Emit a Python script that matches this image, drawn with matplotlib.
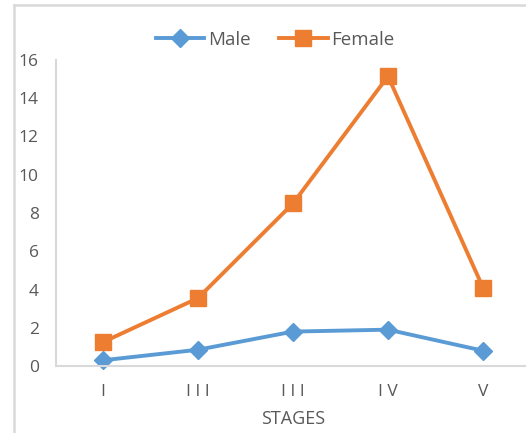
import matplotlib.pyplot as plt
from matplotlib.lines import Line2D

stages = ["I", "I I I", "I I I", "I V", "V"]
male = [0.3, 0.85, 1.8, 1.9, 0.8]
female = [1.25, 3.55, 8.5, 15.15, 4.1]

plt.rcParams["font.family"] = ["Open Sans", "DejaVu Sans"]
TXT = "#595959"
GRID = "#d9d9d9"

fig = plt.figure(figsize=(5.26, 4.33), dpi=100)
ax = fig.add_axes([55.5 / 526, 67 / 433, 475 / 526, 306 / 433])

x = list(range(len(stages)))
ax.plot(x, male, color="#5B9BD5", lw=2.8, marker="D", ms=9, label="Male", clip_on=False)
ax.plot(x, female, color="#ED7D31", lw=2.8, marker="s", ms=11.5, label="Female", clip_on=False)

ax.set_xlim(-0.5, 4.5)
ax.set_ylim(0, 16)
ax.set_yticks(range(0, 17, 2))
ax.set_xticks(x)
ax.set_xticklabels(stages)
ax.tick_params(axis="both", length=0, labelsize=12.5, labelcolor=TXT)
ax.tick_params(axis="y", pad=12)
ax.tick_params(axis="x", pad=13)
ax.set_xlabel("STAGES", fontsize=13, color=TXT, labelpad=7)

for s in ("top", "right"):
    ax.spines[s].set_visible(False)
for s in ("left", "bottom"):
    ax.spines[s].set_color(GRID)
    ax.spines[s].set_linewidth(1.5)

# outer chart border (cropped at right and bottom)
fig.add_artist(Line2D([14 / 526, 14 / 526], [0, 1 - 5 / 433], transform=fig.transFigure, color=GRID, lw=1.8))
fig.add_artist(Line2D([14 / 526, 1], [1 - 5 / 433, 1 - 5 / 433], transform=fig.transFigure, color=GRID, lw=1.8))

fig.legend(loc="center", bbox_to_anchor=(275 / 526, 1 - 40 / 433), ncol=2, frameon=False,
           fontsize=13.5, labelcolor=TXT, handlelength=2.6, handletextpad=0.2, columnspacing=1.5)

fig.savefig("out.png", dpi=100)
